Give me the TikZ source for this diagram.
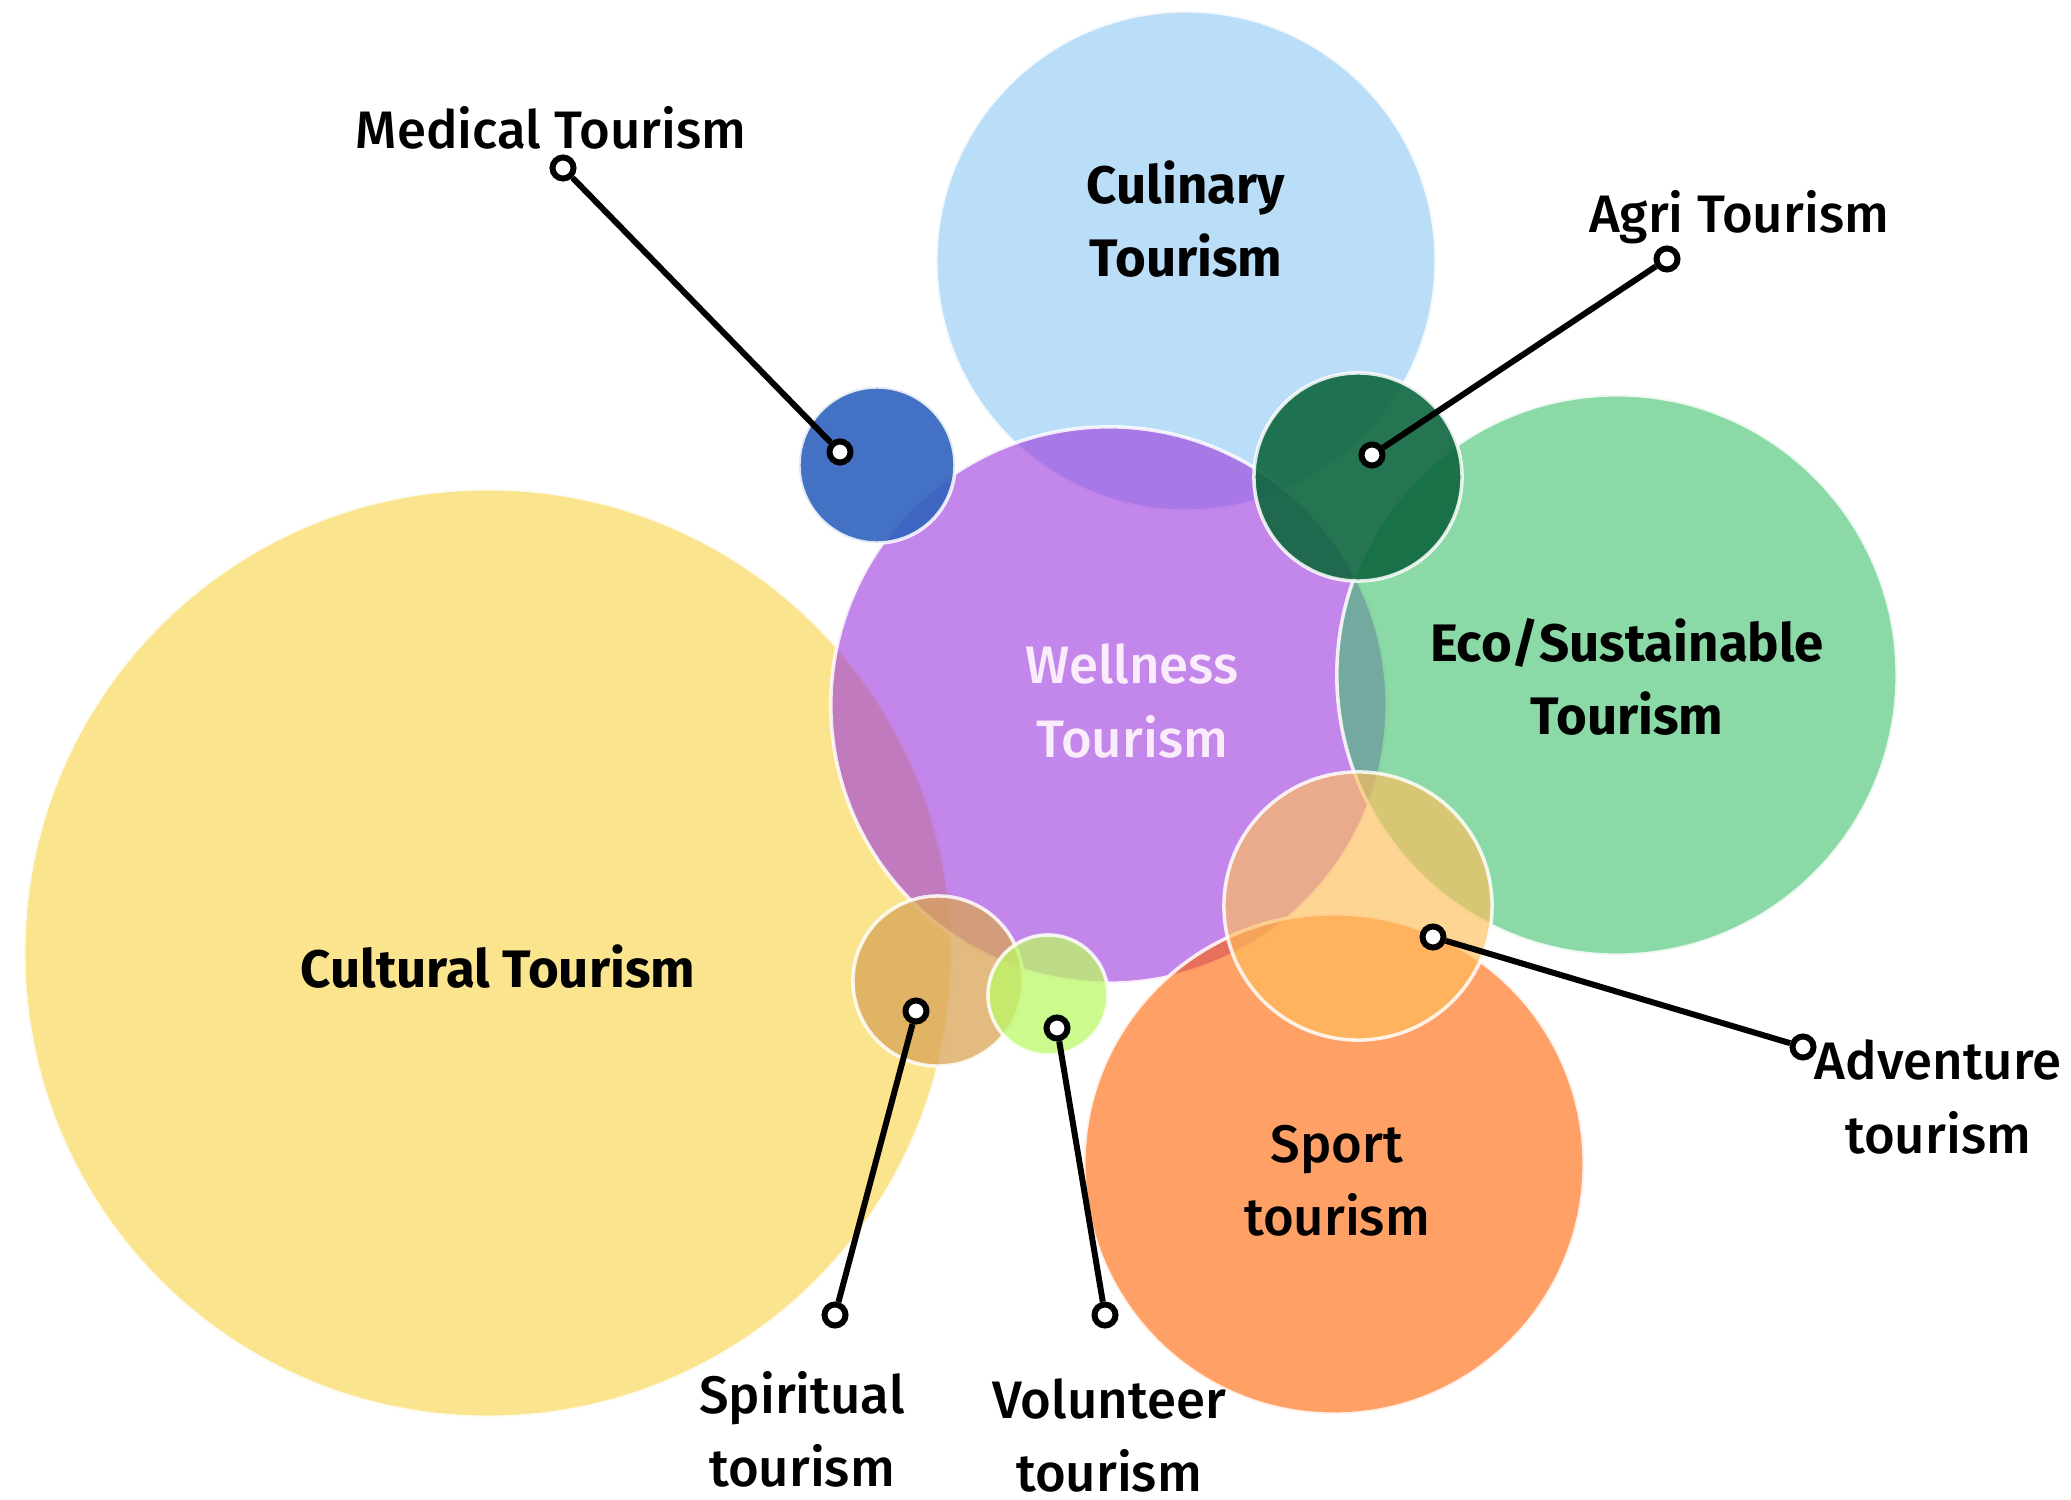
\documentclass[tikz,border=0pt]{standalone}
\usepackage{fontspec}
\IfFontExistsTF{Fira Sans Medium}
  {\setmainfont{Fira Sans Medium}[BoldFont={Fira Sans Bold}]}
  {\setmainfont{Fira Sans}}
\usepackage{xcolor}
\usepackage{tikz}
\usetikzlibrary{positioning}

\definecolor{culturalfill}{RGB}{247,210,67}
\definecolor{culinaryfill}{RGB}{142,200,243}
\definecolor{wellnessfill}{RGB}{155,53,220}
\definecolor{ecofill}{RGB}{62,192,107}
\definecolor{sportfill}{RGB}{255,97,0}
\definecolor{medicalfill}{RGB}{47,98,189}
\definecolor{agrifill}{RGB}{14,102,63}
\definecolor{adventurefill}{RGB}{255,190,90}
\definecolor{spiritualfill}{RGB}{217,164,86}
\definecolor{volunteerfill}{RGB}{188,248,102}
\definecolor{wellnesstext}{RGB}{250,236,250}

\tikzset{
    bubble/.style = {circle, draw=white, draw opacity=0.85, line width=1pt, fill opacity=0.6,
      inner sep=0em, node distance=0em},
    textnode/.style = {draw=none, fill=none, rectangle, inner sep=0em, node distance=0em,
      font=\fontsize{15}{20.8}\selectfont},
    boldtextnode/.style = {textnode, font=\fontsize{15}{20.8}\selectfont\bfseries},
    dotnode/.style = {draw=black, fill=white, circle, line width=1.7pt, minimum size=0.21cm, inner sep=0em},
    connect/.style = {black, line width=1.7pt},
    every text node part/.style={align=center}
}

\begin{document}
\begin{tikzpicture}[x=0.01cm, y=-0.01cm]
    \useasboundingbox (0,0) rectangle (2071,1500);

    % bubbles, back to front
    \node [name=cultural, bubble, fill=culturalfill, minimum size=9.28cm] at (488,953) {};
    \node [name=culinary, bubble, fill=culinaryfill, minimum size=5.00cm] at (1186,261) {};
    \node [name=wellness, bubble, fill=wellnessfill, minimum size=5.56cm] at (1109,705) {};
    \node [name=eco, bubble, fill=ecofill, minimum size=5.60cm] at (1617,675) {};
    \node [name=sport, bubble, fill=sportfill, minimum size=5.00cm] at (1334,1164) {};
    \node [name=medical, bubble, fill=medicalfill, fill opacity=0.9, minimum size=1.56cm] at (877,465) {};
    \node [name=agri, bubble, fill=agrifill, fill opacity=0.9, minimum size=2.08cm] at (1358,477) {};
    \node [name=adventure, bubble, fill=adventurefill, fill opacity=0.65, minimum size=2.68cm] at (1358,906) {};
    \node [name=spiritual, bubble, fill=spiritualfill, fill opacity=0.75, minimum size=1.70cm] at (938,981) {};
    \node [name=volunteer, bubble, fill=volunteerfill, fill opacity=0.75, minimum size=1.20cm] at (1048,995) {};

    % titles inside the bubbles
    \node [name=culturaltext, boldtextnode, right of = cultural, xshift=0.10cm, yshift=-0.14cm] {Cultural Tourism};
    \node [name=culinarytext, boldtextnode, above of = culinary, yshift=0.42cm] {Culinary\\Tourism};
    \node [name=wellnesstext, textnode, text=wellnesstext, right of = wellness, xshift=0.23cm, yshift=0.04cm] {Wellness\\Tourism};
    \node [name=ecotext, boldtextnode, right of = eco, xshift=0.10cm, yshift=-0.02cm] {Eco/Sustainable\\Tourism};
    \node [name=sporttext, textnode, below of = sport, xshift=0.03cm, yshift=-0.17cm] {Sport\\tourism};

    % Medical
    \node [name=medicaldot, dotnode] at (840,452) {};
    \node [name=medicalend, dotnode] at (563,168) {};
    \node [name=medicaltext, textnode, above of = medicalend, xshift=-0.12cm, yshift=0.40cm] {Medical Tourism};
    \draw [connect] (medicalend) -- (medicaldot);

    % Agri
    \node [name=agridot, dotnode] at (1372,455) {};
    \node [name=agriend, dotnode] at (1667,259) {};
    \node [name=agritext, textnode, above of = agriend, xshift=0.72cm, yshift=0.42cm] {Agri Tourism};
    \draw [connect] (agriend) -- (agridot);

    % Adventure
    \node [name=adventuredot, dotnode] at (1433,937) {};
    \node [name=adventureend, dotnode] at (1803,1047) {};
    \node [name=adventuretext, textnode, right of = adventureend, xshift=1.35cm, yshift=-0.50cm] {Adventure\\tourism};
    \draw [connect] (adventuredot) -- (adventureend);

    % Spiritual
    \node [name=spiritualdot, dotnode] at (916,1011) {};
    \node [name=spiritualend, dotnode] at (835,1315) {};
    \node [name=spiritualtext, textnode, below of = spiritualend, xshift=-0.33cm, yshift=-1.14cm] {Spiritual\\tourism};
    \draw [connect] (spiritualdot) -- (spiritualend);

    % Volunteer
    \node [name=volunteerdot, dotnode] at (1057,1028) {};
    \node [name=volunteerend, dotnode] at (1105,1315) {};
    \node [name=volunteertext, textnode, below of = volunteerend, xshift=0.04cm, yshift=-1.20cm] {Volunteer\\tourism};
    \draw [connect] (volunteerdot) -- (volunteerend);
\end{tikzpicture}
\end{document}
